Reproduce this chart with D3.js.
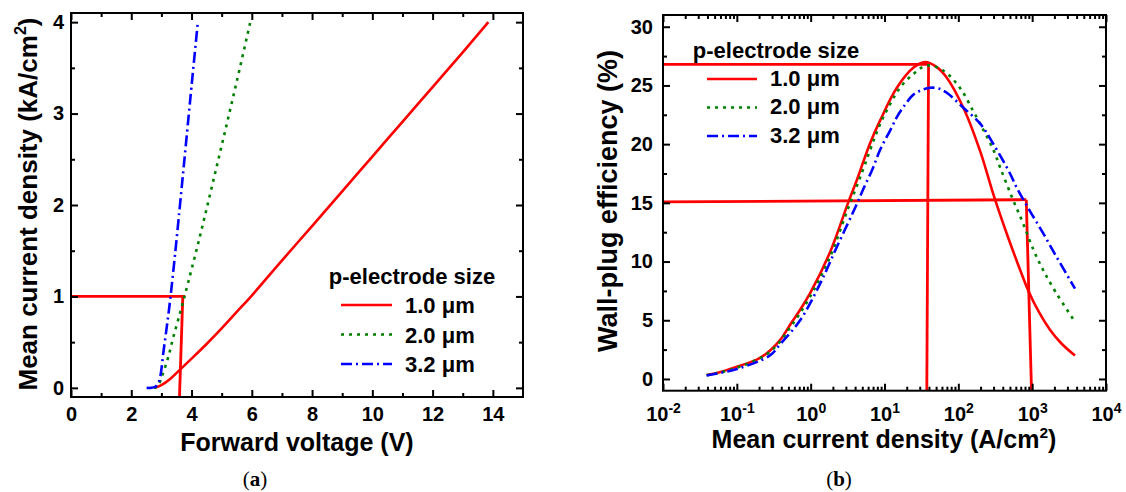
<!DOCTYPE html>
<html>
<head>
<meta charset="utf-8">
<script src="https://cdn.jsdelivr.net/npm/d3@7"></script>
<style>
  body { margin: 0; background: #fff; }
  text { font-family: "Liberation Sans", Arial, sans-serif; font-weight: bold; fill: #000; }
  .tick text { font-size: 20px; }
  .legend text { font-size: 22px; }
  text.caption { font-family: "Liberation Serif", "Times New Roman", serif; font-size: 21px; font-weight: normal; }
</style>
</head>
<body>
<svg id="chart" width="1126" height="492"></svg>
<script>
// ---------- data: (a) forward voltage (V) vs mean current density (kA/cm2) ----------
const seriesNames = ["1.0 μm", "2.0 μm", "3.2 μm"];

const voltage10 = [2.79, 3.0, 3.3, 3.62, 4.0, 4.5, 5.0, 5.5, 6.0, 6.94, 8, 9, 10, 11, 12, 13, 13.85];
const current10 = [0, 0.03, 0.1, 0.2, 0.32, 0.48, 0.65, 0.83, 1.01, 1.37, 1.77, 2.15, 2.53, 2.91, 3.29, 3.67, 4.0];

const voltage20 = [2.75, 2.88, 3.01, 3.23, 3.4, 3.62, 3.79, 4.25, 5.0, 5.5, 5.95];
const current20 = [0, 0.02, 0.12, 0.34, 0.56, 0.82, 1.03, 1.62, 2.65, 3.35, 4.0];

const voltage32 = [2.51, 2.65, 2.79, 2.88, 2.96, 3.07, 3.18, 3.29, 3.49, 3.8, 4.0, 4.2];
const current32 = [0, 0, 0.01, 0.04, 0.12, 0.4, 0.67, 0.96, 1.58, 2.62, 3.3, 3.97];

// red guide lines drawn on (a)
const guideAV = [[0, 3.79], [3.71, 3.6]];
const guideAJ = [[1.0, 1.0], [1.0, -0.1]];

const xTicksA = [0, 2, 4, 6, 8, 10, 12, 14];
const yTicksA = [0, 1, 2, 3, 4];

// ---------- data: (b) mean current density (A/cm2) vs wall-plug efficiency (%) ----------
const density10 = [0.039, 0.06, 0.1, 0.141, 0.2, 0.28, 0.4, 0.525, 0.72, 0.98, 1.83, 3.24, 4.2, 6.3, 8.7, 14.7, 24.5, 35.5, 50, 69, 117, 200, 299, 457, 631, 890, 1260, 1740, 2510, 3800];
const wpe10 = [0.34, 0.6, 1.05, 1.35, 1.75, 2.4, 3.45, 4.6, 5.9, 7.28, 10.8, 15.06, 16.9, 20.0, 22.0, 24.8, 26.5, 27.0, 26.6, 25.7, 23.1, 19.3, 15.7, 12.3, 9.9, 7.5, 5.6, 4.2, 3.0, 2.0];

const density20 = [0.039, 0.1, 0.28, 0.53, 0.98, 1.83, 3.24, 4.7, 8.7, 11.9, 16.2, 24.5, 37.4, 63, 105, 158, 219, 299, 369, 531, 759, 1047, 1413, 2138, 3800];
const wpe20 = [0.32, 0.95, 2.3, 4.4, 7.0, 10.4, 14.6, 17.2, 21.7, 23.4, 24.8, 25.97, 26.7, 26.25, 24.8, 22.85, 21.2, 19.5, 18.0, 15.5, 13.2, 10.96, 9.26, 7.28, 4.87];

const density32 = [0.039, 0.1, 0.28, 0.385, 0.72, 1.34, 2.26, 4.22, 5.18, 6.8, 8.7, 12, 14.7, 18.2, 24.5, 31.6, 41.7, 53.7, 69, 117, 200, 299, 501, 617, 933, 1413, 2138, 3800];
const wpe32 = [0.3, 0.85, 2.0, 2.95, 5.0, 8.1, 11.24, 14.9, 16.2, 17.8, 19.5, 21.2, 22.3, 23.2, 24.2, 24.6, 24.8, 24.75, 24.4, 23.1, 21.7, 20.0, 17.5, 16.3, 14.3, 12.4, 10.4, 7.7];

// red guide lines drawn on (b)
const guideBJ = [[0.01, 39.5], [39.5, 37.4], [0.01, 832], [832, 980]];
const guideBE = [[26.8, 26.8], [26.8, -1], [15.08, 15.27], [15.27, -1]];

const xTicksB = [1e-2, 1e-1, 1e0, 1e1, 1e2, 1e3, 1e4];
const yTicksB = [0, 5, 10, 15, 20, 25, 30];

// ---------- styles ----------
const colors = ["#ff0000", "#008000", "#0000ff"];
const dashes = [null, "3,5", "11,4,2,4"];

const svg = d3.select("#chart");

// scales
const xA = d3.scaleLinear().domain([0, 15]).range([71, 523]);
const yA = d3.scaleLinear().domain([-0.1, 4.1]).range([397, 13]);
const xB = d3.scaleLog().domain([1e-2, 1e4]).range([663, 1106]);
const yB = d3.scaleLinear().domain([-1, 31]).range([390.7, 15]);

// frame with inward ticks on all four sides, returns the labelled bottom axis
function drawFrame(x, y, o) {
  const [xl, xr] = x.range();
  const [yb, yt] = y.range();
  const g = svg.append("g");
  const bottom = g.append("g").attr("transform", `translate(0,${yb})`)
    .call(d3.axisBottom(x).tickValues(o.xMajor).tickSize(-7).tickPadding(o.xPad).tickFormat(o.xFmt));
  g.append("g").attr("transform", `translate(0,${yb})`)
    .call(d3.axisBottom(x).tickValues(o.xMinor).tickSize(-4).tickFormat(""));
  g.append("g").attr("transform", `translate(0,${yt})`)
    .call(d3.axisTop(x).tickValues(o.xMajor).tickSize(-7).tickFormat(""));
  g.append("g").attr("transform", `translate(0,${yt})`)
    .call(d3.axisTop(x).tickValues(o.xMinor).tickSize(-4).tickFormat(""));
  g.append("g").attr("transform", `translate(${xl},0)`)
    .call(d3.axisLeft(y).tickValues(o.yMajor).tickSize(-7).tickPadding(o.yPad).tickFormat(d3.format("d")));
  g.append("g").attr("transform", `translate(${xl},0)`)
    .call(d3.axisLeft(y).tickValues(o.yMinor).tickSize(-4).tickFormat(""));
  g.append("g").attr("transform", `translate(${xr},0)`)
    .call(d3.axisRight(y).tickValues(o.yMajor).tickSize(-7).tickFormat(""));
  g.append("g").attr("transform", `translate(${xr},0)`)
    .call(d3.axisRight(y).tickValues(o.yMinor).tickSize(-4).tickFormat(""));
  g.selectAll(".domain").remove();
  g.selectAll(".tick line").attr("stroke", "#000").attr("stroke-width", 2);
  g.append("rect")
    .attr("x", xl).attr("y", yt).attr("width", xr - xl).attr("height", yb - yt)
    .attr("fill", "none").attr("stroke", "#000").attr("stroke-width", 2);
  return bottom;
}

function drawSeries(x, y, xs, ys, i) {
  const pts = xs.map((v, k) => [v, ys[k]]);
  svg.append("path")
    .datum(pts)
    .attr("fill", "none")
    .attr("stroke", colors[i])
    .attr("stroke-width", 2.6)
    .attr("stroke-dasharray", dashes[i])
    .attr("d", d3.line().x((d) => x(d[0])).y((d) => y(d[1])).curve(d3.curveCatmullRom.alpha(0.5)));
}

function drawGuides(x, y, xs, ys) {
  xs.forEach((xx, k) => {
    svg.append("line")
      .attr("x1", x(xx[0])).attr("x2", x(xx[1]))
      .attr("y1", y(ys[k][0])).attr("y2", y(ys[k][1]))
      .attr("stroke", "#ff0000").attr("stroke-width", 2.8);
  });
}

function drawLegend(sx0, sx1, tx, titleX, titleY, rowY, lineY) {
  const g = svg.append("g").attr("class", "legend");
  g.append("text").attr("x", titleX).attr("y", titleY).attr("text-anchor", "middle").text("p-electrode size");
  seriesNames.forEach((name, i) => {
    g.append("line")
      .attr("x1", sx0).attr("x2", sx1).attr("y1", lineY[i]).attr("y2", lineY[i])
      .attr("stroke", colors[i]).attr("stroke-width", 2.6)
      .attr("stroke-dasharray", dashes[i]);
    g.append("text").attr("x", tx).attr("y", rowY[i]).text(name);
  });
}

// title with an optional superscript 2 before the closing bracket
function axisTitle(x, y, rotate, size, before, sup, after) {
  const t = svg.append("text")
    .attr("transform", `translate(${x},${y})` + (rotate ? " rotate(-90)" : ""))
    .attr("text-anchor", "middle")
    .style("font-size", size + "px")
    .text(before);
  if (sup) {
    t.append("tspan").attr("dy", -size * 0.42).style("font-size", size * 0.62 + "px").text(sup);
    t.append("tspan").attr("dy", size * 0.42).text(after);
  }
}

// ---------- panel (a) ----------
drawGuides(xA, yA, guideAV, guideAJ);
drawSeries(xA, yA, voltage10, current10, 0);
drawSeries(xA, yA, voltage20, current20, 1);
drawSeries(xA, yA, voltage32, current32, 2);
drawFrame(xA, yA, {
  xMajor: xTicksA, xMinor: d3.range(1, 15, 2), xPad: 10, xFmt: d3.format("d"),
  yMajor: yTicksA, yMinor: d3.range(0.5, 4, 1), yPad: 7
});
drawLegend(341, 392, 405, 412, 284, [312.5, 343, 371.5], [305, 334.5, 364]);
axisTitle(297, 451, false, 25, "Forward voltage (V)");
axisTitle(37, 204, true, 26, "Mean current density (kA/cm", "2", ")");

// ---------- panel (b) ----------
drawGuides(xB, yB, guideBJ, guideBE);
drawSeries(xB, yB, density10, wpe10, 0);
drawSeries(xB, yB, density20, wpe20, 1);
drawSeries(xB, yB, density32, wpe32, 2);
const bottomB = drawFrame(xB, yB, {
  xMajor: xTicksB, xMinor: xB.ticks().filter((d) => !xTicksB.includes(d)), xPad: 16, xFmt: (d) => d,
  yMajor: yTicksB, yMinor: d3.range(2.5, 31, 5), yPad: 10
});
// power-of-ten labels as 10 with a superscript exponent
bottomB.selectAll(".tick text").each(function (d) {
  const t = d3.select(this);
  t.text(null);
  t.append("tspan").text("10");
  t.append("tspan").attr("dy", "-0.55em").style("font-size", "14px").text(Math.round(Math.log10(d)));
});
drawLegend(707, 757, 770, 776, 58, [86, 114, 143], [79, 107.5, 136]);
axisTitle(884, 448, false, 25, "Mean current density (A/cm", "2", ")");
axisTitle(617, 201, true, 27, "Wall-plug efficiency (%)");

// ---------- captions ----------
[["a", 255], ["b", 839]].forEach(([c, cx]) => {
  const t = svg.append("text").attr("class", "caption").attr("x", cx).attr("y", 486).attr("text-anchor", "middle");
  t.append("tspan").text("(");
  t.append("tspan").style("font-weight", "bold").text(c);
  t.append("tspan").text(")");
});
</script>
</body>
</html>
